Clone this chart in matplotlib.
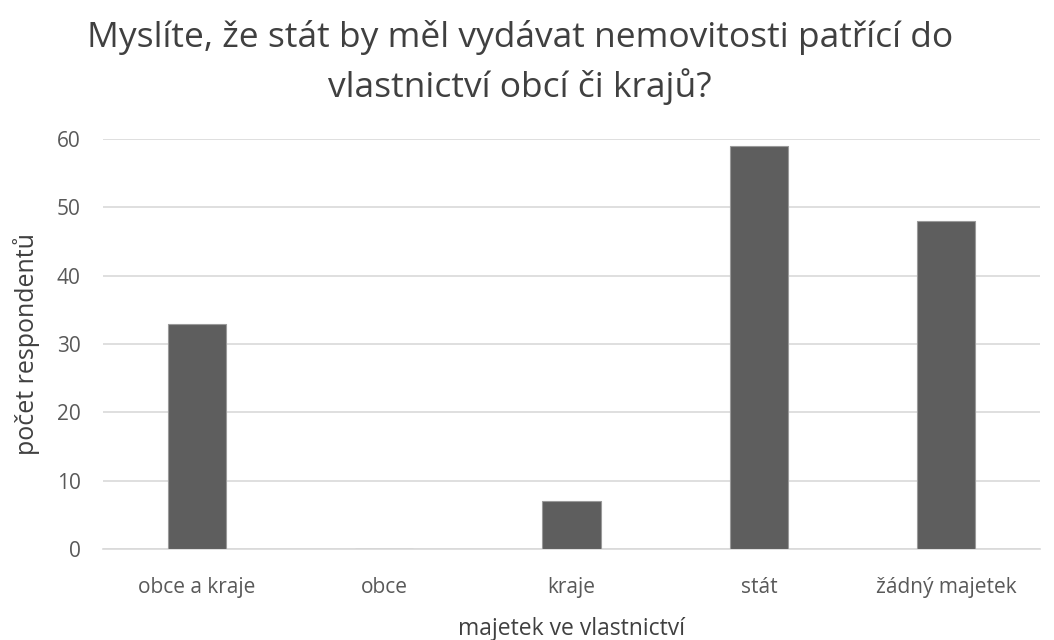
import matplotlib
matplotlib.use("Agg")
import matplotlib.pyplot as plt

categories = ["obce a kraje", "obce", "kraje", "stát", "žádný majetek"]
counts = [33, 0, 7, 59, 48]
yticks = [0, 10, 20, 30, 40, 50, 60]

plt.rcParams['font.family'] = ['Open Sans', 'DejaVu Sans']

fig = plt.figure(figsize=(10.54, 6.4), dpi=100)
ax = fig.add_axes([0.0977, 0.1422, 0.889, 0.6406])

x = range(len(categories))
ax.bar(x, counts, width=0.31, color="#5e5e5e", edgecolor="#9a9a9a", linewidth=0.8, zorder=3)

ax.set_xlim(-0.5, len(categories) - 0.5)
ax.set_ylim(0, 60)
ax.set_yticks(yticks)
ax.set_xticks(list(x))
ax.set_xticklabels(categories)

ax.grid(axis="y", color="#d9d9d9", linewidth=1.2, zorder=0)
for s in ["top", "right", "left"]:
    ax.spines[s].set_visible(False)
ax.spines["bottom"].set_color("#d9d9d9")
ax.spines["bottom"].set_linewidth(1.2)
ax.tick_params(length=0, colors="#595959", labelsize=15)
ax.tick_params(axis="x", pad=20)
ax.tick_params(axis="y", pad=16)

ax.set_xlabel("majetek ve vlastnictví", fontsize=16.5, color="#404040", labelpad=14)
ax.set_ylabel("počet respondentů", fontsize=18, color="#404040", labelpad=12)

fig.suptitle("Myslíte, že stát by měl vydávat nemovitosti patřící do\nvlastnictví obcí či krajů?",
             fontsize=25.5, color="#404040", x=0.493, y=0.968, linespacing=1.45)

fig.savefig("out.png", dpi=100)
